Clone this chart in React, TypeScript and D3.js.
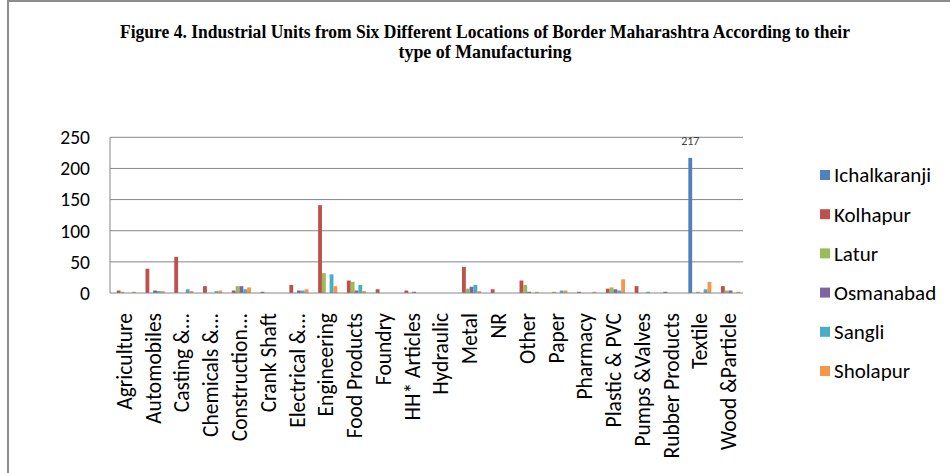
import React from "react";
import * as d3 from "d3";

const categories = [
  "Agriculture", "Automobiles", "Casting &...", "Chemicals &...", "Construction...",
  "Crank Shaft", "Electrical &...", "Engineering", "Food Products", "Foundry",
  "HH* Articles", "Hydraulic", "Metal", "NR", "Other", "Paper", "Pharmacy",
  "Plastic & PVC", "Pumps &Valves", "Rubber Products", "Textile", "Wood &Particle",
];

const seriesNames = ["Ichalkaranji", "Kolhapur", "Latur", "Osmanabad", "Sangli", "Sholapur"];

const ichalkaranji = [0, 0, 0, 0, 0, 0, 0, 0, 0, 0, 0, 0, 0, 0, 0, 0, 0, 0, 0, 0, 217, 0];
const kolhapur = [4, 39, 58, 11, 4, 2, 13, 141, 20, 6, 4, 0, 42, 6, 20, 0, 2, 7, 11, 2, 0, 11];
const latur = [2, 0, 0, 0, 11, 0, 0, 32, 18, 0, 0, 0, 7, 0, 13, 2, 0, 9, 0, 0, 2, 4];
const osmanabad = [0, 4, 0, 0, 11, 0, 4, 0, 4, 0, 2, 0, 10, 0, 2, 0, 0, 6, 0, 0, 0, 4];
const sangli = [0, 3, 6, 3, 6, 0, 4, 30, 13, 0, 0, 0, 13, 0, 0, 4, 0, 4, 2, 0, 6, 0];
const sholapur = [2, 3, 3, 4, 9, 0, 6, 11, 3, 0, 0, 0, 3, 0, 2, 4, 2, 22, 0, 0, 18, 2];

const seriesValues = [ichalkaranji, kolhapur, latur, osmanabad, sangli, sholapur];
const colors = ["#4F81BD", "#C0504D", "#9BBB59", "#8064A2", "#4BACC6", "#F79646"];
const yTicks = [0, 50, 100, 150, 200, 250];
const labelSeries = 0;
const labelCategory = 20;

const FONT = "Calibri, Carlito, Lato, sans-serif";

export default function App() {
  const W = 950, H = 473;
  const left = 110, right = 743, top = 137.3, bottom = 293;
  const x = d3.scaleBand<string>().domain(categories).range([left, right]).padding(0);
  const x1 = d3.scaleBand<string>().domain(seriesNames).range([0, x.bandwidth()])
    .paddingInner(0).paddingOuter(0.75);
  const y = d3.scaleLinear().domain([0, 250]).range([bottom, top]);

  return (
    <svg width={W} height={H} style={{ position: "absolute", left: 0, top: 0 }} fontFamily={FONT}>
      <rect x={0} y={0} width={W} height={H} fill="#fff" />
      <path d={`M8,${H + 5} V1 H${W + 5}`} fill="none" stroke="#8c8c8c" strokeWidth={2} />
      <text x={485} y={38} textAnchor="middle" fontFamily="'Liberation Serif', 'Times New Roman', serif"
        fontWeight="bold" fontSize={18} textLength={730} lengthAdjust="spacingAndGlyphs" fill="#000">
        Figure 4. Industrial Units from Six Different Locations of Border Maharashtra According to their
      </text>
      <text x={485} y={58} textAnchor="middle" fontFamily="'Liberation Serif', 'Times New Roman', serif"
        fontWeight="bold" fontSize={18} textLength={173} lengthAdjust="spacingAndGlyphs" fill="#000">
        type of Manufacturing
      </text>

      {yTicks.map((t) => (
        <g key={t}>
          {t > 0 && <line x1={left} x2={right} y1={y(t)} y2={y(t)} stroke="#868686" strokeWidth={1} />}
          <text x={90} y={y(t)} dy="0.35em" textAnchor="end" fontSize={19.5} fill="#000">{t}</text>
        </g>
      ))}
      <line x1={left} x2={left} y1={top} y2={bottom} stroke="#868686" strokeWidth={1} />

      {categories.map((c, i) => (
        <g key={c}>
          {seriesNames.map((s, j) => {
            const v = seriesValues[j][i];
            if (!v) return null;
            return (
              <rect key={s} x={(x(c) as number) + (x1(s) as number)} y={y(v)}
                width={x1.bandwidth()} height={bottom - y(v)} fill={colors[j]} />
            );
          })}
        </g>
      ))}
      <line x1={left} x2={right} y1={bottom} y2={bottom} stroke="#868686" strokeWidth={1} />

      <text
        x={(x(categories[labelCategory]) as number) + (x1(seriesNames[labelSeries]) as number) + x1.bandwidth() / 2}
        y={y(ichalkaranji[labelCategory]) - 13} textAnchor="middle" fontSize={12} fill="#404040">
        {ichalkaranji[labelCategory]}
      </text>

      {categories.map((c) => (
        <text key={c} transform={`translate(${(x(c) as number) + x.bandwidth() / 2},313) rotate(-90)`}
          textAnchor="end" dy="0.35em" fontSize={21.5} fill="#000">{c}</text>
      ))}

      {seriesNames.map((s, j) => (
        <g key={s} transform={`translate(820,${175 + j * 39.2})`}>
          <rect x={0} y={-5} width={10} height={10} fill={colors[j]} />
          <text x={14} y={0} dy="0.35em" fontSize={21} fill="#000">{s}</text>
        </g>
      ))}
    </svg>
  );
}
